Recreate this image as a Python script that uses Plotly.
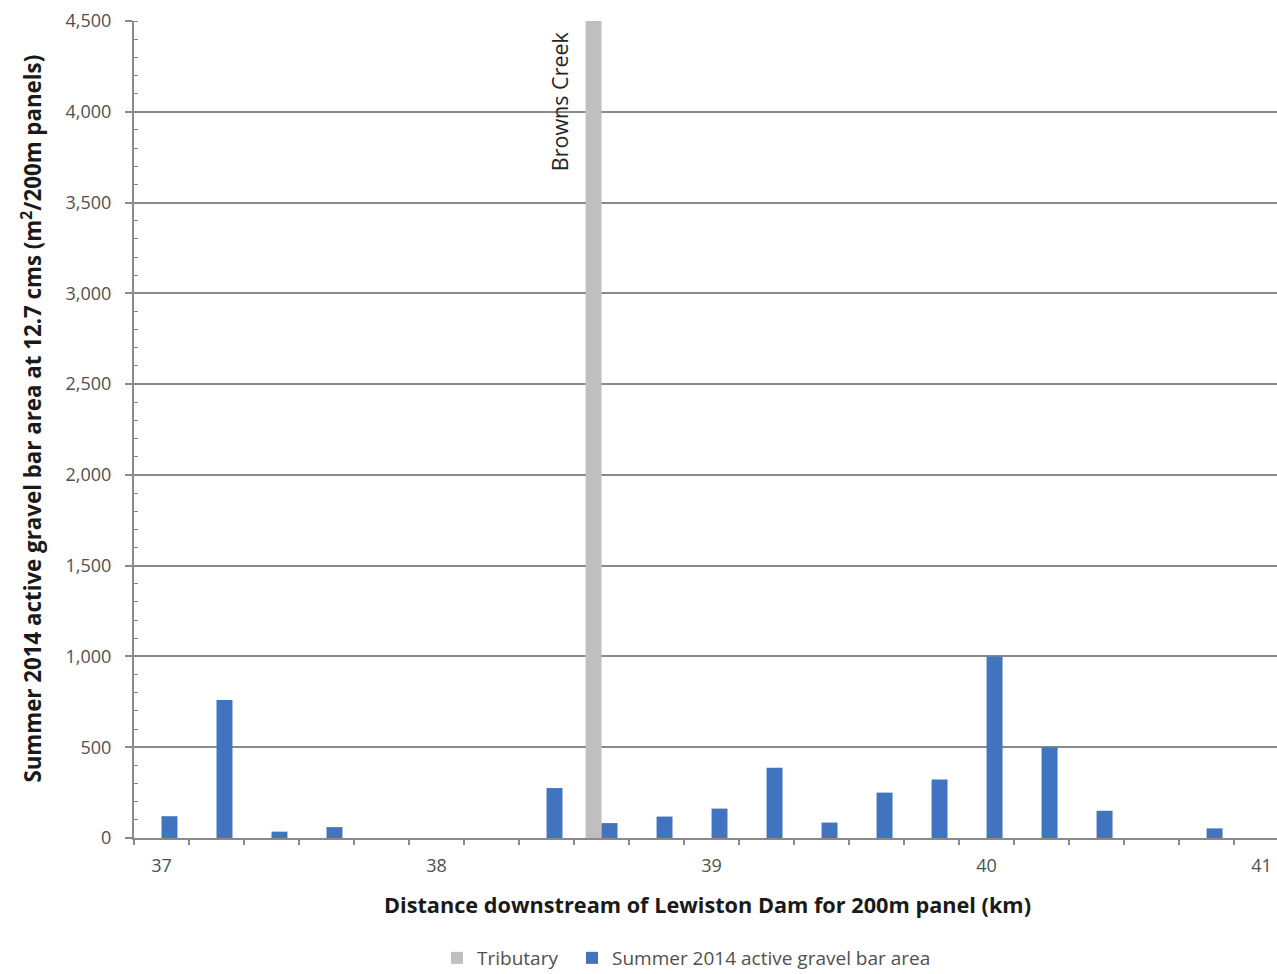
import plotly.graph_objects as go

# 200 m panels downstream of Lewiston Dam (km)
distance_km = [37.0, 37.2, 37.4, 37.6, 37.8, 38.0, 38.2, 38.4, 38.6, 38.8, 39.0,
               39.2, 39.4, 39.6, 39.8, 40.0, 40.2, 40.4, 40.6, 40.8, 41.0]
# Summer 2014 active gravel bar area at 12.7 cms (m^2 per 200 m panel)
gravel_area = [120, 760, 35, 60, 0, 0, 0, 275, 82, 118, 162,
               387, 85, 250, 322, 1000, 500, 150, 0, 53, 0]
# Tributary confluence marker
tributary_km = [38.6]
tributary_val = [4500]
tributary_name = "Browns Creek"
x_tick_vals = [37, 38, 39, 40, 41]

BLUE = "#4174C0"
GREY_BAR = "#BFBFBF"
GRID = "#8A8A8A"
TXT = "#505050"
FONT = "Open Sans"

W, H = 1277, 974
panel = 0.2
bar_w = panel * 0.29

fig = go.Figure()
fig.add_trace(go.Bar(
    x=tributary_km, y=tributary_val, name="Tributary",
    marker=dict(color=GREY_BAR, line=dict(width=0)),
    width=bar_w, offset=-bar_w, legend="legend",
))
fig.add_trace(go.Bar(
    x=distance_km, y=gravel_area, name="Summer 2014 active gravel bar area",
    marker=dict(color=BLUE, line=dict(width=0)),
    width=bar_w, offset=0, legend="legend2",
))

fig.add_annotation(
    x=38.45, y=4060, xref="x", yref="y", text=tributary_name, textangle=-90,
    showarrow=False, xanchor="center", yanchor="middle",
    font=dict(family=FONT, size=21.5, color="#262626"),
)

fig.add_annotation(
    x=-0.0895, y=0.513, xref="paper", yref="paper",
    text="Summer 2014 active gravel bar area at 12.7 cms (m<sup>2</sup>/200m panels)",
    textangle=-90, showarrow=False, xanchor="center", yanchor="middle",
    font=dict(family=FONT, size=22.3, color="#1A1A1A", weight="bold"),
)
fig.add_annotation(
    x=0.502, y=-0.082, xref="paper", yref="paper",
    text="Distance downstream of Lewiston Dam for 200m panel (km)",
    showarrow=False, xanchor="center", yanchor="middle",
    font=dict(family=FONT, size=21.7, color="#1A1A1A", weight="bold"),
)

legend_style = dict(
    orientation="h", yref="container", y=(H - 958) / H,
    xref="container", xanchor="left", yanchor="middle",
    font=dict(family=FONT, size=19, color=TXT), itemwidth=30,
    bgcolor="rgba(0,0,0,0)",
)

fig.update_layout(
    width=W, height=H,
    margin=dict(l=134, r=0, t=21, b=136, autoexpand=False),
    plot_bgcolor="white", paper_bgcolor="white",
    barmode="overlay",
    font=dict(family=FONT, size=18, color=TXT),
    legend=dict(x=437 / W, **legend_style),
    legend2=dict(x=572 / W, **legend_style),
    showlegend=True,
)

fig.update_xaxes(
    range=[36.9, 41.056],
    tickmode="array", tickvals=x_tick_vals, ticktext=[str(v) for v in x_tick_vals],
    ticks="", showgrid=False, zeroline=False,
    showline=True, linecolor=GRID, linewidth=2,
    tickfont=dict(family=FONT, size=18, color=TXT),
    ticklabelstandoff=10,
    minor=dict(tickmode="linear", tick0=36.9, dtick=panel, ticks="outside",
               ticklen=5, tickcolor=GRID, tickwidth=2, showgrid=False),
)
fig.update_yaxes(
    range=[0, 4500], tickmode="linear", tick0=0, dtick=500, tickformat=",d",
    showgrid=True, gridcolor=GRID, gridwidth=2, zeroline=False,
    showline=True, linecolor=GRID, linewidth=2,
    ticks="outside", ticklen=7, tickcolor=GRID, tickwidth=2,
    tickfont=dict(family=FONT, size=18, color=TXT),
    ticklabelstandoff=10,
    minor=dict(tickmode="linear", tick0=0, dtick=100, ticks="inside",
               ticklen=4, tickcolor=GRID, tickwidth=1, showgrid=False),
)

fig.write_html("out.html")
